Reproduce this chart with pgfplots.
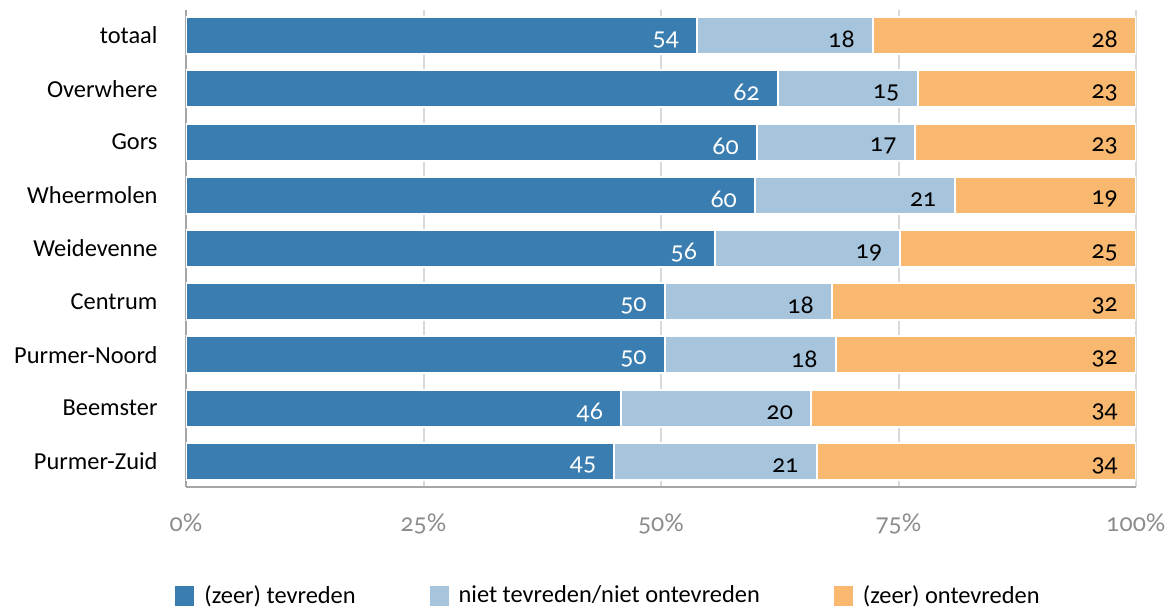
\documentclass[border=0pt]{standalone}
\usepackage{fontspec}
\setmainfont{Carlito}[Numbers=OldStyle]
\newfontfamily\numfont{Lato}[Numbers=OldStyle]
\usepackage{pgfplots}
\pgfplotsset{compat=1.18}
\definecolor{cA}{HTML}{3A7DB0}
\definecolor{cB}{HTML}{A6C4DC}
\definecolor{cC}{HTML}{F8B870}
\definecolor{gridc}{HTML}{D9D9D9}
\definecolor{axc}{HTML}{A6A6A6}
\definecolor{tickc}{HTML}{8C8C8C}
\newcommand{\fs}{\fontsize{12.2pt}{14pt}\selectfont}
\begin{document}
\fs
\begin{tikzpicture}
\useasboundingbox (0,0) rectangle (586.5pt,303.5pt);
\begin{axis}[
  at={(93pt,60pt)}, anchor=south west,
  scale only axis, width=475pt, height=238.5pt,
  xbar stacked, bar width=18.5pt,
  xmin=0, xmax=100, ymin=-0.48, ymax=8.48, y dir=reverse,
  ytick={0,...,8},
  yticklabels={totaal,Overwhere,Gors,Wheermolen,Weidevenne,Centrum,Purmer-Noord,Beemster,Purmer-Zuid},
  yticklabel style={xshift=-10pt, font=\fs},
  xtick={0,25,50,75,100},
  xticklabel={\pgfmathprintnumber[assume math mode=true]{\tick}\%},
  xticklabel style={text=tickc, yshift=-9pt, font=\fs\numfont},
  major tick length=0pt,
  axis lines*=left,
  axis line style={axc, line width=1pt},
  xmajorgrids, grid style={gridc, line width=1pt},
  point meta=explicit symbolic,
  visualization depends on={rawx \as \rawx},
  nodes near coords,
  every node near coord/.append style={anchor=east, xshift={\rawx*2.375pt-4.5pt}, yshift=-2pt, font=\fs\numfont},
  legend columns=3,
  legend style={at={(-0.0116,-0.2285)}, anchor=west, draw=none, inner sep=0pt,
    font=\fs,
    /tikz/every odd column/.append style={column sep=3pt},
    /tikz/every even column/.append style={column sep=35pt}},
  legend image code/.code={\fill[#1, draw=none] (0pt,-5pt) rectangle (9.5pt,5pt);},
]
\addplot[fill=cA, draw=white, line width=1pt, every node near coord/.append style={text=white}] coordinates {
(53.8,0) [54] (62.3,1) [62] (60.1,2) [60] (59.9,3) [60] (55.7,4) [56]
(50.4,5) [50] (50.4,6) [50] (45.8,7) [46] (45.1,8) [45]};
\addplot[fill=cB, draw=white, line width=1pt, every node near coord/.append style={text=black}] coordinates {
(18.5,0) [18] (14.7,1) [15] (16.6,2) [17] (21.0,3) [21] (19.5,4) [19]
(17.6,5) [18] (18.0,6) [18] (20.0,7) [20] (21.3,8) [21]};
\addplot[fill=cC, draw=white, line width=1pt, every node near coord/.append style={text=black}] coordinates {
(27.7,0) [28] (23.0,1) [23] (23.3,2) [23] (19.1,3) [19] (24.8,4) [25]
(32.0,5) [32] (31.6,6) [32] (34.2,7) [34] (33.6,8) [34]};
\legend{(zeer) tevreden, niet tevreden/niet ontevreden, (zeer) ontevreden}
\end{axis}
\end{tikzpicture}
\end{document}
